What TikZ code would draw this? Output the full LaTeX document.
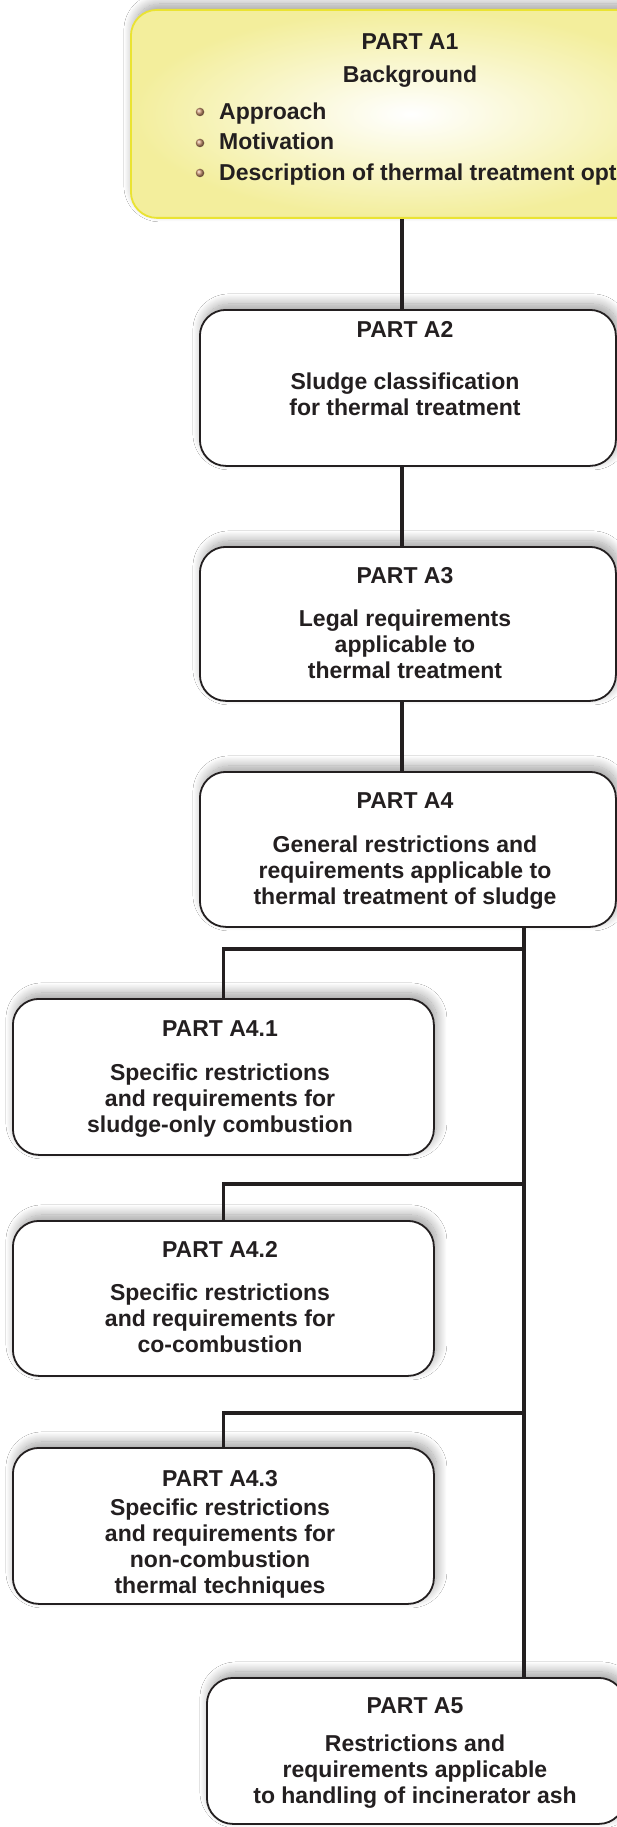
\documentclass[tikz,border=0pt]{standalone}
\usepackage{fontspec}
\setmainfont{Liberation Sans}
\usetikzlibrary{positioning,calc,shadows,shadows.blur}

\definecolor{inkline}{HTML}{231F20}
\definecolor{introfill}{HTML}{F3EE9C}
\definecolor{introedge}{HTML}{EAE332}
\definecolor{dotbrown}{HTML}{C99470}

\tikzset{
  partshadow/.style={blur shadow={shadow xshift=3pt, shadow yshift=6pt,
      shadow blur radius=10pt, shadow blur steps=24, shadow opacity=38}},
  partbox/.style={draw=inkline, line width=1.8pt, rounded corners=26pt,
      fill=white, anchor=north west, inner sep=0pt, partshadow},
  introbox/.style={draw=introedge, line width=1.8pt, rounded corners=26pt,
      inner color=white, outer color=introfill, anchor=north west,
      inner sep=0pt, partshadow},
  ptitle/.style={font=\fontsize{23}{26}\selectfont\bfseries, text=inkline,
      anchor=base, inner sep=0pt},
  pbody/.style={font=\fontsize{23}{26}\selectfont\bfseries, text=inkline,
      align=center, anchor=north, inner sep=0pt},
  pitem/.style={font=\fontsize{23}{26}\selectfont\bfseries, text=inkline,
      anchor=base west, inner sep=0pt},
  bulletdot/.style={circle, inner sep=0pt, minimum size=8.5pt, ball color=dotbrown},
  link/.style={draw=inkline, line width=3.6pt}
}

\begin{document}
\begin{tikzpicture}[x=1pt,y=-1pt]
      \useasboundingbox (0,0) rectangle (617,1827);
      \clip (0,0) rectangle (617,1827);
      \fill[white] (0,0) rectangle (617,1827);

      \coordinate (spine) at (402,0);
      \coordinate (trunk) at (524,0);
      \coordinate (bus1) at (524,949);
      \coordinate (bus2) at (524,1184);
      \coordinate (bus3) at (524,1413);

      % boxes
      \node[introbox, minimum width=560pt, minimum height=208pt] (pa1) at (130,9) {};
      \node[partbox, minimum width=416pt, minimum height=156pt] (pa2) at (199,309) {};
      \node[partbox, minimum width=416pt, minimum height=154pt] (pa3) at (199,546) {};
      \node[partbox, minimum width=416pt, minimum height=155pt] (pa4) at (199,771) {};
      \node[partbox, minimum width=421pt, minimum height=156pt] (pa41) at (12,998) {};
      \node[partbox, minimum width=421pt, minimum height=155pt] (pa42) at (12,1220) {};
      \node[partbox, minimum width=421pt, minimum height=156pt] (pa43) at (12,1447) {};
      \node[partbox, minimum width=418pt, minimum height=146pt] (pa5) at (206,1677) {};

      % texts
      \node[ptitle] (ti1) at (410,50) {PART A1};
      \node[ptitle] (bg1) at (410,83) {Background};
      \node[bulletdot] (d1) at (200,112) {};
      \node[bulletdot] (d2) at (200,143) {};
      \node[bulletdot] (d3) at (200,173) {};
      \node[pitem] (it1) at (219,120) {Approach};
      \node[pitem] (it2) at (219,150) {Motivation};
      \node[pitem] (it3) at (219,181) {Description of thermal treatment options};

      \node[ptitle] (ti2) at (405,337) {PART A2};
      \node[pbody] (bd2) at (405,372.5) {Sludge classification\\for thermal treatment};
      \node[ptitle] (ti3) at (405,583) {PART A3};
      \node[pbody] (bd3) at (405,610) {Legal requirements\\applicable to\\thermal treatment};
      \node[ptitle] (ti4) at (405,808) {PART A4};
      \node[pbody] (bd4) at (405,835.5) {General restrictions and\\requirements applicable to\\thermal treatment of sludge};
      \node[ptitle] (ti41) at (220,1036) {PART A4.1};
      \node[pbody] (bd41) at (220,1064) {Specific restrictions\\and requirements for\\sludge-only combustion};
      \node[ptitle] (ti42) at (220,1257) {PART A4.2};
      \node[pbody] (bd42) at (220,1284) {Specific restrictions\\and requirements for\\co-combustion};
      \node[ptitle] (ti43) at (220,1486) {PART A4.3};
      \node[pbody] (bd43) at (220,1498.5) {Specific restrictions\\and requirements for\\non-combustion\\thermal techniques};
      \node[ptitle] (ti5) at (415,1713) {PART A5};
      \node[pbody] (bd5) at (415,1735) {Restrictions and\\requirements applicable\\to handling of incinerator ash};

      % connectors
      \draw[link] (spine |- pa1.south) -- (spine |- pa2.north);
      \draw[link] (spine |- pa2.south) -- (spine |- pa3.north);
      \draw[link] (spine |- pa3.south) -- (spine |- pa4.north);
      \draw[link] (trunk |- pa4.south) -- (trunk |- pa5.north);
      \draw[link] (bus1) -| (pa41.north);
      \draw[link] (bus2) -| (pa42.north);
      \draw[link] (bus3) -| (pa43.north);
\end{tikzpicture}
\end{document}
